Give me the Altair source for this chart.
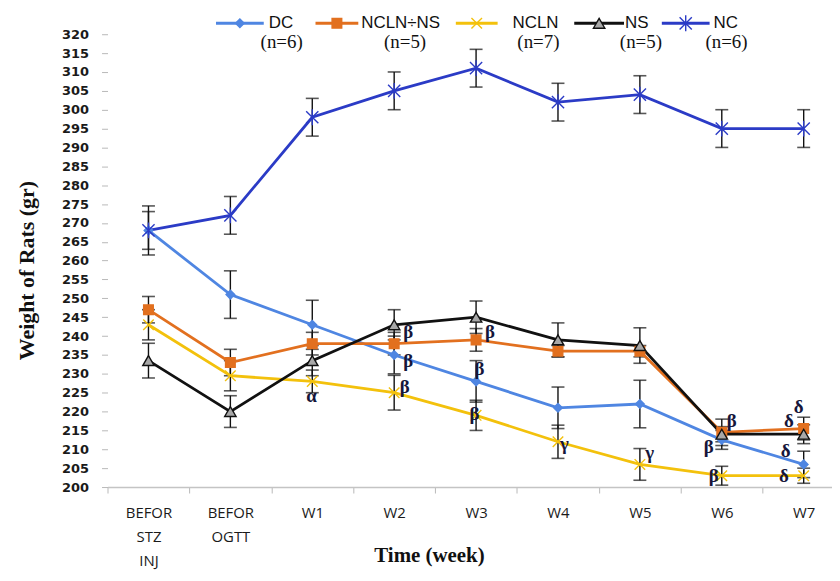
import json
import altair as alt
import pandas as pd

# ---------------- data ----------------
categories = [0, 1, 2, 3, 4, 5, 6, 7, 8]
x_labels = [["BEFOR", "STZ", "INJ"], ["BEFOR", "OGTT"], "W1", "W2", "W3", "W4", "W5", "W6", "W7"]
y_ticks = [200, 205, 210, 215, 220, 225, 230, 235, 240, 245, 250, 255, 260,
           265, 270, 275, 280, 285, 290, 295, 300, 305, 310, 315, 320]
series = ["DC", "NCLN÷NS", "NCLN", "NS", "NC"]
series_n = ["(n=6)", "(n=5)", "(n=7)", "(n=5)", "(n=6)"]

dc_mean = [268, 251, 243, 235, 228, 221, 222, 212.5, 206]
dc_err = [5, 6.3, 6.5, 5, 5.5, 5.5, 6.3, 2.5, 3.5]
nclnns_mean = [247, 233, 238, 238, 239, 236, 236, 214.5, 215.5]
nclnns_err = [3.5, 3.5, 3, 3, 3, 1.5, 1.5, 3.5, 3]
ncln_mean = [243, 229.5, 228, 225, 219, 212, 206, 203, 203]
ncln_err = [4, 4, 3, 4.6, 4, 4.4, 4.2, 2.5, 2]
ns_mean = [233.5, 220, 233.5, 243, 245, 239, 237.5, 214, 214]
ns_err = [4.6, 4.2, 4, 4, 4.3, 4.5, 4.7, 2, 2.5]
nc_mean = [268, 272, 298, 305, 311, 302, 304, 295, 295]
nc_err = [6.5, 5, 5, 5, 5, 5, 5, 5, 5]

ann_text = ["α", "β", "β", "β", "β", "β", "β", "γ", "γ", "β", "β", "β", "δ", "δ", "δ", "δ"]
ann_x = [1.99, 3.17, 3.17, 3.13, 4.17, 4.04, 3.98, 5.08, 6.12, 7.12, 6.84, 6.90, 7.82, 7.94, 7.78, 7.76]
ann_y = [224.1, 241.0, 233.3, 226.5, 241.0, 231.2, 219.4, 211.5, 208.9, 217.5, 210.7, 203.0, 217.5, 221.2, 209.6, 203.0]

# ---------------- styles ----------------
colors = ["#4F86E2", "#E2701F", "#F3C10C", "#111111", "#2B3BC6"]
fills = ["#4F86E2", "#E2701F", "#F3C10C", "#A8A8A8", "#2B3BC6"]
shapes = ["diamond", "square", "M-1,-1L1,1M-1,1L1,-1",
          "triangle-up", "M-1,-1L1,1M-1,1L1,-1M0,-1.3L0,1.3"]
sizes = [75, 150, 170, 140, 190]

# ---------------- layout ----------------
PX_PER_CAT = 82.3
PLOT_LEFT_PAGE = 108
X0_PAGE = PLOT_LEFT_PAGE + 0.5 * PX_PER_CAT
PX_PER_UNIT = 3.7917
AXIS_BOTTOM_PAGE = 488
W = 728
H = 480
x_dom = [-0.5, -0.5 + W / PX_PER_CAT]
y_dom = [200, 200 + H / PX_PER_UNIT]


def px2x(px):
    return (px - X0_PAGE) / PX_PER_CAT


def py2y(py):
    return 200 + (AXIS_BOTTOM_PAGE - py) / PX_PER_UNIT


means = [dc_mean, nclnns_mean, ncln_mean, ns_mean, nc_mean]
errs = [dc_err, nclnns_err, ncln_err, ns_err, nc_err]
rows = []
for s, m, e in zip(series, means, errs):
    for c, v, d in zip(categories, m, e):
        rows.append({"series": s, "x": c, "y": v, "lo": v - d, "hi": v + d})
df = pd.DataFrame(rows)

leg_line_l = [217, 317, 458, 577, 665]
leg_line_r = [265, 360, 500, 627, 713]
leg_name_l = [270, 363, 515, 628, 717]
leg_n_c = [283, 407, 541, 644, 730]
leg = pd.DataFrame({
    "series": series,
    "n": series_n,
    "xl": [px2x(p) for p in leg_line_l],
    "xr": [px2x(p) for p in leg_line_r],
    "xm": [px2x((a + b) / 2) for a, b in zip(leg_line_l, leg_line_r)],
    "xn": [px2x(p) for p in leg_name_l],
    "xc": [px2x(p) for p in leg_n_c],
    "yl": py2y(22),
    "yn": py2y(41),
})

ann = pd.DataFrame({"t": ann_text, "x": ann_x, "y": ann_y})

# ---------------- scales / axes ----------------
xs = alt.Scale(domain=x_dom, nice=False, zero=False)
ys = alt.Scale(domain=y_dom, nice=False, zero=False)
col = alt.Scale(domain=series, range=colors)
fil = alt.Scale(domain=series, range=fills)
shp = alt.Scale(domain=series, range=shapes)
siz = alt.Scale(domain=series, range=sizes)

label_expr = json.dumps(x_labels).replace('"', "'") + "[round(datum.value + 0.5)]"

x_axis = alt.Axis(
    values=[i - 0.5 for i in categories],
    labelExpr=label_expr,
    labelOffset=PX_PER_CAT / 2,
    labelFlush=False,
    labelOverlap=False,
    labelBound=False,
    labelFont="Open Sans",
    labelFontSize=15,
    labelColor="#1a1a1a",
    labelLineHeight=24,
    labelPadding=13,
    labelAlign="center",
    labelBaseline="top",
    tickSize=6,
    tickColor="#b8b8b8",
    domainColor="#c4c4c4",
    domainWidth=1.5,
    grid=False,
    title="Time (week)",
    titleFont="Liberation Serif",
    titleFontSize=21,
    titleFontWeight="bold",
    titleColor="#111111",
    titleX=323,
    titleY=69,
    titleAlign="center",
    titleBaseline="middle",
)

y_axis = alt.Axis(
    values=y_ticks,
    format="d",
    labelOverlap=False,
    labelFont="DejaVu Sans",
    labelFontWeight="bold",
    labelFontSize=13,
    labelColor="#1a1a1a",
    labelPadding=13,
    tickSize=6,
    tickColor="#b8b8b8",
    domain=False,
    grid=False,
    title="Weight of Rats (gr)",
    titleFont="Liberation Serif",
    titleFontSize=22,
    titleFontWeight="bold",
    titleColor="#111111",
    titleAngle=270,
    titleX=-81,
    titleY=262,
    titleAlign="center",
    titleBaseline="middle",
)


def X(field):
    return alt.X(field, scale=xs, axis=x_axis)


def Y(field):
    return alt.Y(field, scale=ys, axis=y_axis)


base = alt.Chart(df)

err_rule = base.mark_rule(color="#111111", strokeWidth=1.4).encode(
    x=X("x:Q"), y=Y("lo:Q"), y2="hi:Q")
cap_lo = base.mark_tick(color="#111111", thickness=1.6, size=13, orient="horizontal").encode(
    x=X("x:Q"), y=Y("lo:Q"))
cap_hi = base.mark_tick(color="#111111", thickness=1.6, size=13, orient="horizontal").encode(
    x=X("x:Q"), y=Y("hi:Q"))

lines = base.mark_line(strokeWidth=2.8).encode(
    x=X("x:Q"), y=Y("y:Q"),
    color=alt.Color("series:N", scale=col, legend=None),
    detail="series:N",
)

point_enc = dict(
    shape=alt.Shape("series:N", scale=shp, legend=None),
    fill=alt.Fill("series:N", scale=fil, legend=None),
    stroke=alt.Stroke("series:N", scale=col, legend=None),
    size=alt.Size("series:N", scale=siz, legend=None),
)

points = base.mark_point(filled=True, opacity=1, strokeWidth=1.4, fillOpacity=1).encode(
    x=X("x:Q"), y=Y("y:Q"), **point_enc)

ann_layer = alt.Chart(ann).mark_text(
    font="Liberation Serif", fontSize=19, fontWeight="bold", color="#16163a",
    align="center", baseline="middle",
).encode(x=X("x:Q"), y=Y("y:Q"), text="t:N")

lb = alt.Chart(leg)
leg_line = lb.mark_rule(strokeWidth=3).encode(
    x=X("xl:Q"), x2="xr:Q", y=Y("yl:Q"),
    color=alt.Color("series:N", scale=col, legend=None),
)
leg_pt = lb.mark_point(filled=True, opacity=1, strokeWidth=1.4, fillOpacity=1).encode(
    x=X("xm:Q"), y=Y("yl:Q"), **point_enc)
leg_name = lb.mark_text(font="Liberation Sans", fontSize=17, color="#111111",
                        align="left", baseline="middle").encode(
    x=X("xn:Q"), y=Y("yl:Q"), text="series:N")
leg_n = lb.mark_text(font="Liberation Serif", fontSize=19, color="#111111",
                     align="center", baseline="middle").encode(
    x=X("xc:Q"), y=Y("yn:Q"), text="n:N")

chart = alt.layer(
    err_rule, cap_lo, cap_hi, lines, points, ann_layer,
    leg_line, leg_pt, leg_name, leg_n,
).properties(
    width=W,
    height=H,
    autosize=alt.AutoSizeParams(type="none"),
    padding={"left": PLOT_LEFT_PAGE - 8, "top": 0, "right": 0, "bottom": 82},
    background="white",
).configure_view(stroke=None)

chart.save("out.html", embed_options={"renderer": "svg", "actions": False})
